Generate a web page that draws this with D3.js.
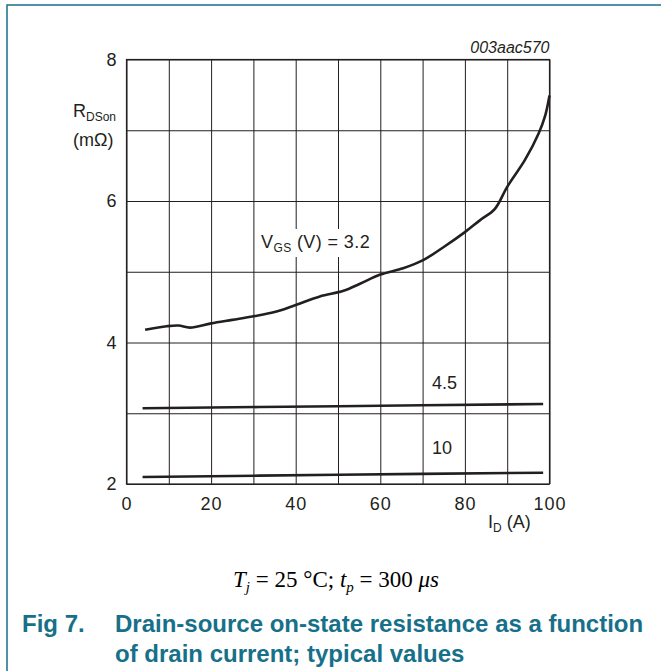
<!DOCTYPE html>
<html>
<head>
<meta charset="utf-8">
<script src="https://cdn.jsdelivr.net/npm/d3@7"></script>
<style>
  html, body { margin: 0; padding: 0; background: #fff; }
  svg { display: block; font-family: "Liberation Sans", Arial, sans-serif; }
</style>
</head>
<body>
<div id="chart"></div>
<script>
// drain current (A) vs R_DSon (mOhm)
const vgsLevels = ['3.2', '4.5', '10'];
const idVgs32 = [4.4, 9.5, 12.3, 15, 20, 25, 30, 35, 40, 45.7, 51.3, 55.2, 60, 65.4, 70, 75, 80, 83.6, 87.1, 90, 94.2, 97.4, 99, 100];
const rVgs32 = [4.18, 4.23, 4.24, 4.21, 4.27, 4.32, 4.37, 4.43, 4.53, 4.65, 4.73, 4.83, 4.96, 5.05, 5.16, 5.35, 5.56, 5.73, 5.89, 6.20, 6.58, 6.95, 7.21, 7.49];
const idVgs45 = [3.8, 50, 98.5];
const rVgs45 = [3.07, 3.10, 3.13];
const idVgs10 = [3.8, 50, 98.5];
const rVgs10 = [2.10, 2.13, 2.16];

const xTicks = [0, 10, 20, 30, 40, 50, 60, 70, 80, 90, 100];
const yTicks = [2, 3, 4, 5, 6, 7, 8];

const width = 661, height = 671;
const teal = '#17708a';
const ink = '#231f20';
const fs = '18px', fsSub = '12px';

const svg = d3.select('#chart').append('svg')
  .attr('width', width)
  .attr('height', height);

// page frame (left and top rule)
svg.append('path')
  .attr('d', 'M7,671 V5 H661')
  .attr('fill', 'none')
  .attr('stroke', teal)
  .attr('stroke-width', 1.5);

const x = d3.scaleLinear().domain([0, 100]).range([126.5, 549.5]);
const y = d3.scaleLinear().domain([2, 8]).range([484, 59.5]);
const plotW = x.range()[1] - x.range()[0];
const plotH = y.range()[0] - y.range()[1];

const g = svg.append('g');

// vertical grid + x labels
const xAxis = g.append('g')
  .attr('transform', `translate(0,${y(2)})`)
  .call(d3.axisBottom(x)
    .tickValues(xTicks)
    .tickSize(-plotH)
    .tickPadding(13)
    .tickFormat(d => d % 20 === 0 ? d : ''));

// horizontal grid + y labels
const yAxis = g.append('g')
  .attr('transform', `translate(${x(0)},0)`)
  .call(d3.axisLeft(y)
    .tickValues(yTicks)
    .tickSize(-plotW)
    .tickPadding(10)
    .tickFormat(d => d % 2 === 0 ? d : ''));

[xAxis, yAxis].forEach(a => {
  a.select('.domain').remove();
  a.selectAll('line').attr('stroke', ink).attr('stroke-width', 1);
  a.selectAll('text')
    .attr('fill', ink)
    .style('font-family', '"Liberation Sans", Arial, sans-serif')
    .style('font-size', fs);
});
xAxis.selectAll('text').style('letter-spacing', '1px');

g.append('rect')
  .attr('x', x(0)).attr('y', y(8))
  .attr('width', plotW).attr('height', plotH)
  .attr('fill', 'none')
  .attr('stroke', ink)
  .attr('stroke-width', 1.2);

// label with white knock-out behind it
g.append('rect')
  .attr('x', 258).attr('y', 229)
  .attr('width', 115).attr('height', 28)
  .attr('fill', '#fff');

const vgsLabel = g.append('text')
  .attr('x', 261).attr('y', 248)
  .attr('fill', ink)
  .style('font-size', fs)
  .style('letter-spacing', '0.4px');
vgsLabel.append('tspan').text('V');
vgsLabel.append('tspan').attr('dy', 4).style('font-size', fsSub).text('GS');
vgsLabel.append('tspan').attr('dy', -4).text(` (V) = ${vgsLevels[0]}`);

g.append('text')
  .attr('x', 432).attr('y', 389)
  .attr('fill', ink)
  .style('font-size', fs)
  .text(vgsLevels[1]);

g.append('text')
  .attr('x', 432).attr('y', 454)
  .attr('fill', ink)
  .style('font-size', fs)
  .text(vgsLevels[2]);

// curves
const line = d3.line()
  .x(d => x(d[0]))
  .y(d => y(d[1]))
  .curve(d3.curveCatmullRom.alpha(0.5));

const series = [
  d3.zip(idVgs32, rVgs32),
  d3.zip(idVgs45, rVgs45),
  d3.zip(idVgs10, rVgs10)
];

g.selectAll('path.curve')
  .data(series)
  .join('path')
  .attr('class', 'curve')
  .attr('d', line)
  .attr('fill', 'none')
  .attr('stroke', ink)
  .attr('stroke-width', 2.6)
  .attr('stroke-linecap', 'butt');

// figure code
g.append('text')
  .attr('x', x(100)).attr('y', 52.5)
  .attr('text-anchor', 'end')
  .attr('fill', ink)
  .style('font-size', '16px')
  .style('font-style', 'italic')
  .text('003aac570');

// axis titles
const yTitle = g.append('text')
  .attr('x', 73).attr('y', 117)
  .attr('fill', ink)
  .style('font-size', fs);
yTitle.append('tspan').text('R');
yTitle.append('tspan').attr('dy', 4).style('font-size', fsSub).text('DSon');

g.append('text')
  .attr('x', 73).attr('y', 146)
  .attr('fill', ink)
  .style('font-size', fs)
  .text('(mΩ)');

const xTitle = g.append('text')
  .attr('x', 488).attr('y', 528)
  .attr('fill', ink)
  .style('font-size', fs);
xTitle.append('tspan').text('I');
xTitle.append('tspan').attr('dy', 4).style('font-size', fsSub).text('D');
xTitle.append('tspan').attr('dy', -4).text(' (A)');

// conditions line, set like the math in the datasheet
const cond = svg.append('text')
  .attr('x', 233).attr('y', 587)
  .attr('fill', '#000')
  .style('font-family', '"Liberation Serif", "Times New Roman", serif')
  .style('font-size', '23px');
cond.append('tspan').style('font-style', 'italic').text('T');
cond.append('tspan').attr('dy', 5).style('font-style', 'italic').style('font-size', '15px').text('j');
cond.append('tspan').attr('dy', -5).text(' = 25 °C; ');
cond.append('tspan').style('font-style', 'italic').text('t');
cond.append('tspan').attr('dy', 5).style('font-style', 'italic').style('font-size', '15px').text('p');
cond.append('tspan').attr('dy', -5).text(' = 300 ');
cond.append('tspan').style('font-style', 'italic').text('μs');

// figure title
const title = svg.append('g')
  .attr('fill', teal)
  .style('font-size', '24px')
  .style('font-weight', 'bold');
title.append('text').attr('x', 22).attr('y', 632).text('Fig 7.');
title.append('text').attr('x', 115).attr('y', 632).text('Drain-source on-state resistance as a function');
title.append('text').attr('x', 115).attr('y', 662).text('of drain current; typical values');
</script>
</body>
</html>
